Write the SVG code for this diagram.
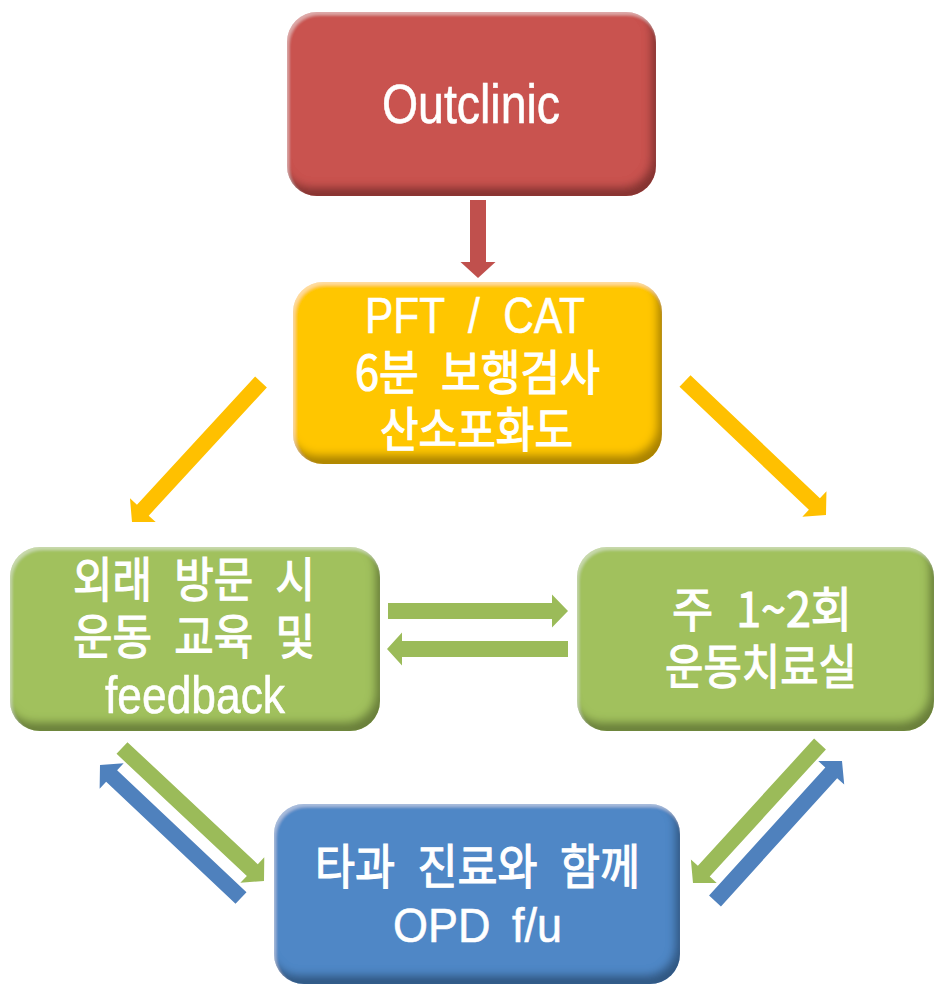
<svg xmlns="http://www.w3.org/2000/svg" width="935" height="985" viewBox="0 0 935 985">
<defs>
<filter id="bevel" x="-6%" y="-8%" width="112%" height="116%">
<feFlood flood-color="#000" flood-opacity="0.6" result="f"/>
<feComposite in="f" in2="SourceAlpha" operator="out" result="outside"/>
<feOffset in="outside" dx="-5" dy="-9" result="off"/>
<feGaussianBlur in="off" stdDeviation="4" result="blur"/>
<feComposite in="blur" in2="SourceAlpha" operator="in" result="shadow"/>
<feFlood flood-color="#fff" flood-opacity="0.35" result="w"/>
<feComposite in="w" in2="SourceAlpha" operator="out" result="wout"/>
<feOffset in="wout" dx="2" dy="3" result="woff"/>
<feGaussianBlur in="woff" stdDeviation="1.5" result="wblur"/>
<feComposite in="wblur" in2="SourceAlpha" operator="in" result="hl"/>
<feMerge><feMergeNode in="SourceGraphic"/><feMergeNode in="shadow"/><feMergeNode in="hl"/></feMerge>
</filter>
</defs>
<style>
.box{filter:url(#bevel)}
.red{fill:#c9534f}
.yellow{fill:#ffc600}
.green{fill:#a1c15d}
.blue{fill:#5087c6}
.lat{font-family:"Liberation Sans Narrow","Liberation Sans",sans-serif;fill:#fff;stroke:#fff;stroke-width:0.6px;text-anchor:middle}
.kor{font-family:"Noto Sans CJK KR",sans-serif;fill:#fff;stroke:#fff;stroke-width:1.2px;text-anchor:middle;font-size:48px;word-spacing:14px}
.ar-red{fill:#c0504d}
.ar-yellow{fill:#ffc000}
.ar-green{fill:#9bbb59}
.ar-blue{fill:#4f81bd}
</style>
<rect width="935" height="985" fill="#fff"/>
<g id="connectors">
<polygon class="ar-red" points="470,200 470,262 460.5,262 478,278 495.5,262 486,262 486,200"/>
<polygon class="ar-yellow" points="255.12,376.58 136.96,504.81 129.97,498.37 132,522 155.71,522.09 148.72,515.65 266.88,387.42"/>
<polygon class="ar-yellow" points="679.49,386.8 808.89,509.78 802.34,516.67 826,515 826.46,491.29 819.91,498.18 690.51,375.2"/>
<polygon class="ar-green" points="388,619 552,619 552,627.5 568,611 552,594.5 552,603 388,603"/>
<polygon class="ar-green" points="568,641 402,641 402,632.5 387,649 402,665.5 402,657 568,657"/>
<polygon class="ar-green" points="116.53,753.84 246.85,875.9 240.36,882.83 264,881 264.28,857.29 257.79,864.22 127.47,742.16"/>
<polygon class="ar-blue" points="246.49,892.18 117.13,770.16 123.65,763.25 100,765 99.63,788.71 106.15,781.8 235.51,903.82"/>
<polygon class="ar-green" points="814.09,738.6 697.88,865.79 690.87,859.39 693,883 716.71,882.99 709.7,876.59 825.91,749.4"/>
<polygon class="ar-blue" points="720.93,906.38 837.18,778.23 844.21,784.61 842,761 818.29,761.09 825.32,767.47 709.07,895.62"/>
</g>
<g id="n-outclinic">
<rect class="box red" x="287" y="12" width="369" height="184" rx="30"/>
<text class="lat" x="471" y="123" font-size="56" textLength="178" lengthAdjust="spacingAndGlyphs">Outclinic</text>
</g>
<g id="n-tests">
<rect class="box yellow" x="293" y="282" width="369" height="182" rx="30"/>
<text class="lat" x="475" y="333" font-size="50" word-spacing="14" textLength="220" lengthAdjust="spacingAndGlyphs">PFT / CAT</text>
<text class="kor" x="477.5" y="390" textLength="245" lengthAdjust="spacingAndGlyphs">6분 보행검사</text>
<text class="kor" x="476.5" y="447" textLength="193" lengthAdjust="spacingAndGlyphs">산소포화도</text>
</g>
<g id="n-education">
<rect class="box green" x="10" y="547" width="370" height="184" rx="30"/>
<text class="kor" x="194" y="597" textLength="242" lengthAdjust="spacingAndGlyphs">외래 방문 시</text>
<text class="kor" x="194" y="654" textLength="242" lengthAdjust="spacingAndGlyphs">운동 교육 및</text>
<text class="lat" x="195" y="713" font-size="52" textLength="180" lengthAdjust="spacingAndGlyphs">feedback</text>
</g>
<g id="n-therapy">
<rect class="box green" x="577" y="547" width="357" height="184" rx="30"/>
<text class="kor" x="762" y="627" textLength="180" lengthAdjust="spacingAndGlyphs">주 1~2회</text>
<text class="kor" x="761" y="684" textLength="192" lengthAdjust="spacingAndGlyphs">운동치료실</text>
</g>
<g id="n-opd">
<rect class="box blue" x="274" y="804" width="406" height="180" rx="30"/>
<text class="kor" x="477.5" y="884" textLength="325" lengthAdjust="spacingAndGlyphs">타과 진료와 함께</text>
<text class="lat" x="477.5" y="942" font-size="49" word-spacing="10" textLength="169" lengthAdjust="spacingAndGlyphs">OPD f/u</text>
</g>
</svg>
